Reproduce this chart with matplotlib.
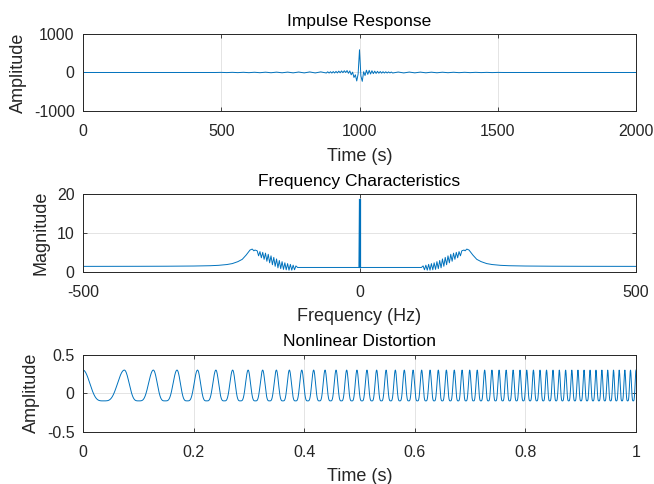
import numpy as np
import matplotlib
matplotlib.use('Agg')
import matplotlib.pyplot as plt

# ---- impulse response (sample index, amplitude) ----
imp_left_t = [0, 480, 500, 520, 540, 560, 580, 600, 620, 640, 660, 680, 700, 720, 740,
              760, 780, 800, 820, 840, 860, 880]
imp_left_v = [0, 0, 3, -3, 4, -4, 5, -5, 6, -6, 8, -7, 9, -8, 10, -10, 12, -11, 14, -12, 16, -14]
imp_mid_t = [885, 890, 895, 900, 905, 910, 915, 920, 925, 930, 935, 940, 945, 950, 955,
             960, 965, 970, 975, 980, 985, 990, 995, 1000, 1005, 1010, 1015, 1020, 1025,
             1030, 1035, 1040, 1045, 1050, 1055, 1060, 1065, 1070, 1075, 1080, 1085, 1090,
             1095, 1100, 1105, 1110, 1115]
imp_mid_v = [18, -15, 20, -16, 24, -14, 28, -12, 35, -8, 40, -5, 45, 0, 50,
             -20, 40, -60, 10, -130, -60, -220, -40, 590, -90, -230, 20, -80, 60,
             -50, 55, -40, 45, -30, 35, -25, 30, -20, 25, -18, 20, -15,
             18, -14, 15, -12, 12]
imp_right_t = [1120, 1140, 1160, 1180, 1200, 1220, 1240, 1260, 1280, 1300, 1320, 1340,
               1360, 1380, 1400, 1420, 1440, 1460, 1480, 1500, 1520, 2000]
imp_right_v = [-14, 12, -12, 11, -10, 10, -9, 8, -8, 7, -6, 6, -5, 5, -4, 4, -3, 3, -3, 2, 0, 0]

# ---- frequency characteristics, positive half (Hz, magnitude) ----
freq_pos = [1, 60, 100, 112,
            115.0, 117.5, 120.0, 122.5, 125.0, 127.5, 130.0, 132.5, 135.0, 137.5, 140.0,
            142.5, 145.0, 147.5, 150.0, 152.5, 155.0, 157.5, 160.0, 162.5, 165.0, 167.5,
            170.0, 172.5, 175.0, 177.5, 180.0, 182.5, 185.0,
            189, 191, 194, 198, 205, 212, 220, 230, 240, 255, 270, 300, 350, 400, 500]
mag_pos = [1.1, 1.1, 1.1, 1.1,
           1.5, 0.5, 1.7, 0.4, 1.9, 0.4, 2.1, 0.5, 2.3, 0.6, 2.6,
           0.8, 2.9, 1.0, 3.3, 1.4, 3.7, 1.8, 4.1, 2.3, 4.5, 2.7,
           4.8, 3.2, 5.0, 3.6, 5.2, 4.1, 5.4,
           5.6, 5.4, 5.85, 5.6, 4.3, 3.2, 2.6, 2.1, 1.85, 1.65, 1.55, 1.47, 1.42, 1.4, 1.38]
dc_peak = 18.5

# ---- nonlinear distortion: peak times of the chirp (s) and levels ----
peak_times = [0.0, 0.0748, 0.1272, 0.1700, 0.2071, 0.2403, 0.2706, 0.2986, 0.3249, 0.3497,
              0.3732, 0.3956, 0.4171, 0.4377, 0.4576, 0.4768, 0.4954, 0.5135, 0.5310,
              0.5481, 0.5648, 0.5810, 0.5969, 0.6124, 0.6276, 0.6425, 0.6571, 0.6714,
              0.6855, 0.6993, 0.7129, 0.7263, 0.7395, 0.7524, 0.7652, 0.7778, 0.7902,
              0.8024, 0.8145, 0.8264, 0.8382, 0.8499, 0.8613, 0.8727, 0.8839, 0.8950,
              0.9060, 0.9169, 0.9276, 0.9383, 0.9488, 0.9593, 0.9696, 0.9798, 0.9900, 1.0]
peak_level = 0.3
trough_level = -0.1

blue = '#0072BD'
dark = '#262626'
plt.rcParams['font.family'] = ['Liberation Sans', 'DejaVu Sans']

fig = plt.figure(figsize=(6.54, 4.84), dpi=100)
left, width = 0.1269, 0.8456
ax1 = fig.add_axes([left, 0.7707, width, 0.1591])
ax2 = fig.add_axes([left, 0.4386, width, 0.1600])
ax3 = fig.add_axes([left, 0.1081, width, 0.1591])

# impulse response
imp_t = imp_left_t + imp_mid_t + imp_right_t
imp_v = imp_left_v + imp_mid_v + imp_right_v
ax1.plot(imp_t, imp_v, color=blue, lw=0.7)
ax1.set_xlim(0, 2000)
ax1.set_ylim(-1000, 1000)
ax1.set_xticks([0, 500, 1000, 1500, 2000])
ax1.set_xticklabels(['0', '500', '1000', '1500', '2000'])
ax1.set_yticks([-1000, 0, 1000])
ax1.set_yticklabels(['-1000', '0', '1000'])
ax1.set_title('Impulse Response')
ax1.set_xlabel('Time (s)')
ax1.set_ylabel('Amplitude')

# frequency characteristics (symmetric spectrum)
fp = np.array(freq_pos)
mp = np.array(mag_pos)
freq = np.concatenate([-fp[::-1], [0], fp])
mag = np.concatenate([mp[::-1], [dc_peak], mp])
ax2.plot(freq, mag, color=blue, lw=0.7)
ax2.plot([0, 0], [mp[0], dc_peak], color=blue, lw=1.6)
ax2.set_xlim(-500, 500)
ax2.set_ylim(0, 20)
ax2.set_xticks([-500, 0, 500])
ax2.set_xticklabels(['-500', '0', '500'])
ax2.set_yticks([0, 10, 20])
ax2.set_yticklabels(['0', '10', '20'])
ax2.set_title('Frequency Characteristics')
ax2.set_xlabel('Frequency (Hz)')
ax2.set_ylabel('Magnitude')

# nonlinear distortion: waveform between the read peak times
t = np.linspace(0, 1, 4001)
phase = 2 * np.pi * np.interp(t, peak_times, np.arange(len(peak_times)))
a = (peak_level - trough_level) / 2
s = np.cos(phase)
y = trough_level + a / 2 * (s + 1) ** 2
ax3.plot(t, y, color=blue, lw=0.7)
ax3.set_xlim(0, 1)
ax3.set_ylim(-0.5, 0.5)
ax3.set_xticks([0, 0.2, 0.4, 0.6, 0.8, 1])
ax3.set_xticklabels(['0', '0.2', '0.4', '0.6', '0.8', '1'])
ax3.set_yticks([-0.5, 0, 0.5])
ax3.set_yticklabels(['-0.5', '0', '0.5'])
ax3.set_title('Nonlinear Distortion')
ax3.set_xlabel('Time (s)')
ax3.set_ylabel('Amplitude')

for ax in (ax1, ax2, ax3):
    ax.grid(True, color='#dfdfdf', lw=0.6)
    ax.set_axisbelow(True)
    ax.tick_params(direction='in', top=True, right=True, length=2.8, width=0.6,
                   labelsize=11.5, colors=dark)
    ax.tick_params(axis='x', pad=9.5)
    ax.tick_params(axis='y', pad=6)
    for sp in ax.spines.values():
        sp.set_color(dark)
        sp.set_linewidth(0.7)
    ax.title.set_fontsize(12.5)
    ax.title.set_color('black')
    ax.xaxis.label.set_fontsize(13)
    ax.yaxis.label.set_fontsize(13)
    ax.xaxis.label.set_color(dark)
    ax.yaxis.label.set_color(dark)
    ax.xaxis.labelpad = 6
    ax.yaxis.labelpad = 5

fig.savefig('out.png', dpi=100, facecolor='white')
